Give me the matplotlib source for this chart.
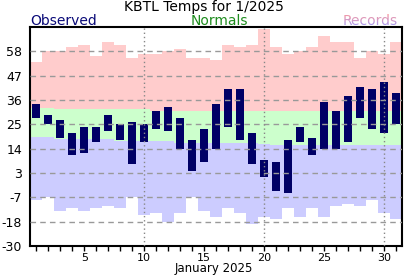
import numpy as np
import matplotlib
matplotlib.use('Agg')
import matplotlib.pyplot as plt
from matplotlib.transforms import Bbox

# daily data for KBTL, January 2025 (deg F)
days = np.arange(1, 32)
obs_high = [34, 29, 27, 21, 24, 24, 29, 25, 26, 25, 31, 33, 28, 18, 23, 34,
            41, 41, 21, 9, 8, 18, 24, 19, 35, 31, 38, 42, 41, 44, 39]
obs_low = [28, 25, 19, 11, 12, 17, 22, 18, 7, 17, 23, 22, 14, 4, 8, 14,
           24, 18, 7, 1, -5, -6, 17, 11, 14, 14, 17, 28, 23, 21, 25]
norm_high = [32.6, 32.6, 31.8, 31.8, 31.8, 31.8, 31.8, 31.8, 31.8, 31.8,
             30.9, 30.9, 30.9, 30.9, 30.9, 30.9, 30.9, 30.9, 30.9, 30.9,
             30.9, 30.9, 30.9, 30.9, 30.9, 30.9, 30.9, 30.9, 30.9, 30.9, 30.9]
norm_low = [19.1, 19.1, 18.2, 18.2, 18.2, 18.2, 18.2, 17.3, 17.3, 17.3,
            17.3, 17.3, 16.6, 16.6, 16.6, 16.6, 16.6, 16.6, 16.6, 16.3,
            15.5, 15.5, 15.5, 15.5, 15.5, 15.5, 15.5, 15.5, 15.5, 15.5, 15.5]
rec_high = [53, 58, 58, 60, 61, 56, 62, 61, 55, 57, 57, 58, 59, 55, 55, 54,
            61, 60, 61, 68, 60, 57, 58, 60, 65, 62, 62, 55, 58, 57, 62]
rec_low = [-9, -8, -14, -13, -14, -13, -12, -13, -8, -16, -15, -19, -15, -8,
           -14, -17, -13, -15, -20, -17, -18, -13, -17, -13, -17, -12, -11,
           -12, -9, -15, -18]

ytick_vals = [-30, -19, -8, 3, 14, 25, 36, 47, 58]
ytick_labels = ['-30', '-18', '-7', '3', '14', '25', '36', '47', '58']
xtick_vals = [5, 10, 15, 20, 25, 30]


def steps(vals):
    """repeat last value so step='post' covers the final day"""
    return np.append(vals, vals[-1])


fig = plt.figure(figsize=(4.12, 2.76), dpi=100)
ax = fig.add_axes([30.4 / 412, 30 / 276, 371.6 / 412, 219 / 276])

edges = np.arange(0.5, 32.5)
ax.fill_between(edges, steps(norm_high), steps(rec_high), step='post',
                color='#ffcccc', lw=0)
ax.fill_between(edges, steps(norm_low), steps(norm_high), step='post',
                color='#ccffcc', lw=0)
ax.fill_between(edges, steps(rec_low), steps(norm_low), step='post',
                color='#ccccff', lw=0)

obs_high = np.array(obs_high)
obs_low = np.array(obs_low)
ax.bar(days, obs_high - obs_low, bottom=obs_low, width=0.67,
       color='#000066', lw=0, zorder=2)

# grid on top of everything
for y in ytick_vals[1:]:
    ax.axhline(y, color='#999999', lw=1, ls=(0, (4, 3)), zorder=3)
for x in [10, 20, 30]:
    ax.axvline(x, color='#888888', lw=1, ls=(0, (1, 2)), zorder=3)

ax.set_xlim(0.5, 31.5)
ax.set_ylim(-30, 69)
ax.set_yticks(ytick_vals)
ax.set_yticklabels(ytick_labels)
ax.set_xticks(xtick_vals)
ax.set_xticks(days, minor=True)
ax.tick_params(axis='y', length=0, pad=6, labelsize=9)
ax.tick_params(axis='x', which='both', length=3.5, width=1, direction='out',
               pad=1.5, labelsize=8)
ax.set_xlabel('January 2025', fontsize=8.5)
ax.xaxis.set_label_coords(0.493, -0.074)
for s in ax.spines.values():
    s.set_linewidth(1.5)

fig.text(204 / 412, 1 - 11.5 / 276, 'KBTL Temps for 1/2025', ha='center',
         va='baseline', fontsize=10)
fig.text(30.7 / 412, 1 - 25 / 276, 'Observed', ha='left', va='baseline',
         fontsize=10, color='#0a0a78')
fig.text(219 / 412, 1 - 24.5 / 276, 'Normals', ha='center', va='baseline',
         fontsize=10, color='#1e8c1e')

# "Records" shaded from pink to lavender, drawn in horizontal slices
fig.canvas.draw()
r = fig.canvas.get_renderer()
probe = fig.text(398 / 412, 1 - 24.5 / 276, 'Records', ha='right',
                 va='baseline', fontsize=10)
bb = probe.get_window_extent(r)
probe.remove()
top_c = np.array([1.0, 0.6, 0.6])
bot_c = np.array([0.6, 0.6, 1.0])
n = 8
for i in range(n):
    f = (i + 0.5) / n
    c = top_c * (1 - f) + bot_c * f
    y1 = bb.y1 - i * bb.height / n
    y0 = bb.y1 - (i + 1) * bb.height / n
    t = fig.text(398 / 412, 1 - 24.5 / 276, 'Records', ha='right',
                 va='baseline', fontsize=10, color=c)
    t.set_clip_box(Bbox([[bb.x0 - 2, y0], [bb.x1 + 2, y1]]))
    t.set_clip_on(True)

fig.savefig('out.png', dpi=100)
